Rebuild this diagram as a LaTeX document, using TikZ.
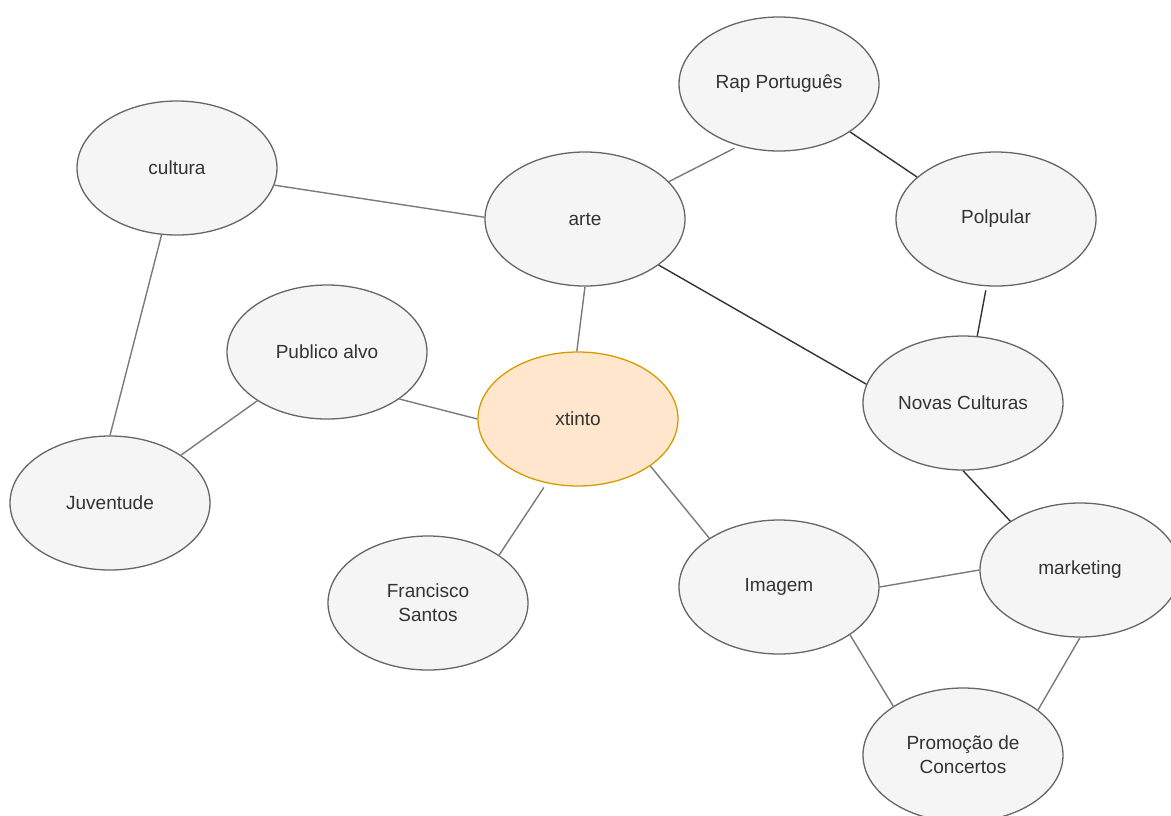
\documentclass[tikz,border=0pt]{standalone}
\usepackage{fontspec}
\setmainfont{Liberation Sans}
\usetikzlibrary{shapes.geometric}
\definecolor{nfill}{HTML}{F5F5F5}
\definecolor{nline}{HTML}{666666}
\definecolor{xfill}{HTML}{FFE6CC}
\definecolor{xline}{HTML}{D79B00}
\definecolor{ntext}{HTML}{333333}
\definecolor{lgray}{HTML}{7A7A7A}
\definecolor{ldark}{HTML}{333333}
\begin{document}
\begin{tikzpicture}[x=1pt,y=-1pt,
  bubble/.style={ellipse, draw=nline, fill=nfill, line width=1.3pt,
    minimum width=200pt, minimum height=134pt, inner sep=0pt,
    text=ntext, font=\fontsize{19}{24}\selectfont, align=center},
  hub/.style={bubble, draw=xline, fill=xfill},
  link/.style={draw=lgray, line width=1.4pt},
  dlink/.style={draw=ldark, line width=1.4pt}]
\useasboundingbox (0,0) rectangle (1171,815);
\clip (0,0) rectangle (1171,815);
\node[bubble] (rap) at (779,84) {Rap Português};
\node[bubble] (cul) at (177,168) {cultura};
\node[bubble] (arte) at (585,219) {arte};
\node[bubble] (pol) at (996,219) {Polpular};
\node[bubble] (pub) at (327,352) {Publico alvo};
\node[hub] (xt) at (578,419) {xtinto};
\node[bubble] (nov) at (963,403) {Novas Culturas};
\node[bubble] (juv) at (110,503) {Juventude};
\node[bubble] (fra) at (428,603) {Francisco\\Santos};
\node[bubble] (img) at (779,587) {Imagem};
\node[bubble] (mkt) at (1080,570) {marketing};
\node[bubble] (pro) at (963,755) {Promoção de\\Concertos};
\draw[link] (cul.-10.8) -- (arte.179);
\draw[link, shorten >=5pt] (arte.24.3) -- (rap.-123);
\draw[dlink] (rap.-34.2) -- (pol.152.3);
\draw[link] (cul.-103.8) -- (juv.90);
\draw[link] (arte.-90) -- (xt.91);
\draw[dlink] (arte.-32.7) -- (nov.169.5);
\draw[dlink, shorten <=4pt] (pol.-98) -- (nov.78.2);
\draw[link] (pub.-33) -- (xt.180);
\draw[link] (pub.-145.6) -- (juv.34);
\draw[link, shorten <=5pt] (xt.-116.3) -- (fra.34.6);
\draw[link] (xt.-33) -- (img.145.4);
\draw[dlink] (nov.-90) -- (mkt.145);
\draw[link] (img.0) -- (mkt.180);
\draw[link] (img.-34.2) -- (pro.145.6);
\draw[link] (mkt.-90) -- (pro.31.7);
\end{tikzpicture}
\end{document}
